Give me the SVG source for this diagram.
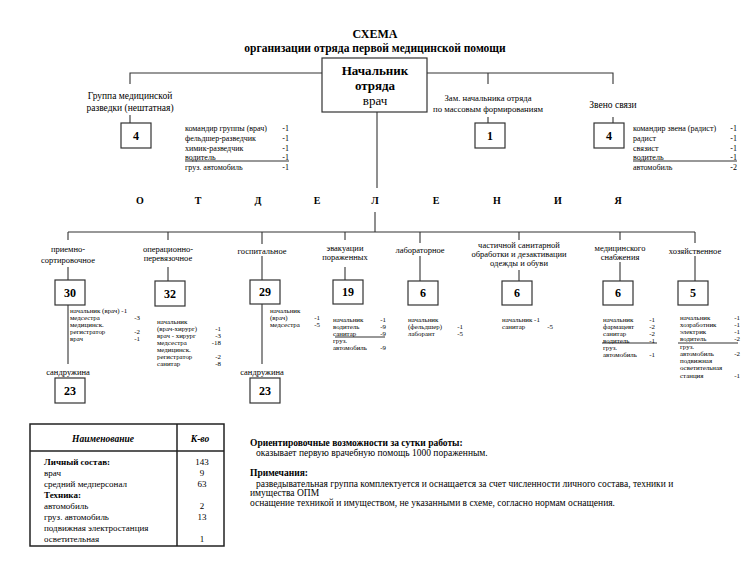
<svg xmlns="http://www.w3.org/2000/svg" width="750" height="561" viewBox="0 0 750 561">
<style>
text{font-family:"Liberation Serif","Times New Roman","DejaVu Serif",serif;fill:#000}
.s{font-size:8.5px}
.xs{font-size:6.9px}
.t{font-size:8px}
.m{font-size:9.5px}
.b{font-weight:bold}
.num{font-size:12px;font-weight:bold;text-anchor:middle}
.c{text-anchor:middle}
.e{text-anchor:end}
rect{fill:#fff;stroke:#333;stroke-width:1.2}
line,polyline{stroke:#333;stroke-width:1.1;fill:none}
</style>
<rect x="0" y="0" width="750" height="561" style="stroke:none"/>
<text x="375" y="38" class="c b" font-size="12">СХЕМА</text>
<text x="375" y="52" class="c b" font-size="11.5">организации отряда первой медицинской помощи</text>
<g id="connectors">
<polyline points="322,73 130,73 130,84"/>
<polyline points="427,73 613,73 613,84"/>
<line x1="488" y1="73" x2="488" y2="84"/>
<line x1="130" y1="115" x2="130" y2="123"/>
<line x1="488" y1="117" x2="488" y2="123"/>
<line x1="613" y1="117" x2="613" y2="123"/>
<line x1="185" y1="161" x2="289" y2="161"/>
<line x1="633" y1="161" x2="737" y2="161"/>
<line x1="377" y1="112" x2="377" y2="188"/>
<line x1="375" y1="212" x2="375" y2="232"/>
<line x1="68" y1="232" x2="695" y2="232"/>
<line x1="68" y1="232" x2="68" y2="240"/><line x1="68" y1="267" x2="68" y2="280"/>
<line x1="168" y1="232" x2="168" y2="240"/><line x1="168" y1="267" x2="168" y2="281"/>
<line x1="262" y1="232" x2="262" y2="244"/><line x1="262" y1="256" x2="262" y2="280"/>
<line x1="345" y1="232" x2="345" y2="240"/><line x1="345" y1="267" x2="345" y2="280"/>
<line x1="420" y1="232" x2="420" y2="243"/><line x1="420" y1="256" x2="420" y2="281"/>
<line x1="519" y1="232" x2="519" y2="240"/><line x1="519" y1="270" x2="519" y2="281"/>
<line x1="620" y1="232" x2="620" y2="240"/><line x1="620" y1="262" x2="620" y2="281"/>
<line x1="695" y1="232" x2="695" y2="243"/><line x1="695" y1="256" x2="695" y2="281"/>
<line x1="68" y1="305" x2="68" y2="364"/>
<line x1="262" y1="304" x2="262" y2="364"/>
<line x1="335" y1="337" x2="385" y2="337"/>
<line x1="602" y1="343" x2="657" y2="343"/>
<line x1="678" y1="343" x2="738" y2="343"/>
</g>
<g id="chief"><rect x="322" y="58" width="105" height="54"/>
<text x="375" y="75" class="c b" font-size="13">Начальник</text>
<text x="375" y="90" class="c b" font-size="13">отряда</text>
<text x="375" y="105" class="c" font-size="13">врач</text></g>
<g id="razv"><text x="130" y="99" class="c m">Группа медицинской</text><text x="130" y="111" class="c m">разведки (нештатная)</text>
<rect x="121" y="123" width="30" height="25"/><text x="136" y="140" class="num">4</text>
<g class="t"><text x="185" y="131">командир группы (врач)</text><text x="185" y="141">фельдшер-разведчик</text><text x="185" y="151">химик-разведчик</text><text x="185" y="160">водитель</text><text x="185" y="170">груз. автомобиль</text>
<text x="289" y="131" class="e">-1</text><text x="289" y="141" class="e">-1</text><text x="289" y="151" class="e">-1</text><text x="289" y="160" class="e">-1</text><text x="289" y="170" class="e">-1</text></g></g>
<g id="zam"><text x="488" y="101" class="c" font-size="8.7">Зам. начальника отряда</text><text x="488" y="112" class="c" font-size="8.7">по массовым формированиям</text>
<rect x="475" y="123" width="30" height="25"/><text x="490" y="140" class="num">1</text></g>
<g id="svyaz"><text x="613" y="108" class="c m">Звено связи</text>
<rect x="594" y="123" width="30" height="25"/><text x="609" y="140" class="num">4</text>
<g class="t"><text x="633" y="131">командир звена (радист)</text><text x="633" y="141">радист</text><text x="633" y="151">связист</text><text x="633" y="160">водитель</text><text x="633" y="170">автомобиль</text>
<text x="737" y="131" class="e">-1</text><text x="737" y="141" class="e">-1</text><text x="737" y="151" class="e">-1</text><text x="737" y="160" class="e">-1</text><text x="737" y="170" class="e">-2</text></g></g>
<g id="otd" class="b" font-size="10"><text x="140" y="204" class="c">О</text><text x="198" y="204" class="c">Т</text><text x="258" y="204" class="c">Д</text><text x="317" y="204" class="c">Е</text><text x="375" y="204" class="c">Л</text><text x="436" y="204" class="c">Е</text><text x="497" y="204" class="c">Н</text><text x="558" y="204" class="c">И</text><text x="618" y="204" class="c">Я</text></g>
<g id="o1"><text x="68" y="252" class="c s">приемно-</text><text x="68" y="263" class="c s">сортировочное</text>
<rect x="55" y="280" width="30" height="25"/><text x="70" y="297" class="num">30</text>
<g class="xs"><text x="70" y="313">начальник (врач) -1</text><text x="70" y="320">медсестра</text><text x="70" y="327">медицинск.</text><text x="70" y="334">регистратор</text><text x="70" y="341">врач</text>
<text x="140" y="320" class="e">-3</text><text x="140" y="334" class="e">-2</text><text x="140" y="341" class="e">-1</text></g>
<text x="68" y="375" class="c s">сандружина</text>
<rect x="55" y="378" width="30" height="25"/><text x="70" y="395" class="num">23</text></g>
<g id="o2"><text x="168" y="252" class="c s">операционно-</text><text x="168" y="261" class="c s">перевязочное</text>
<rect x="155" y="281" width="30" height="25"/><text x="170" y="298" class="num">32</text>
<g class="xs"><text x="157" y="324">начальник</text><text x="157" y="331">(врач-хирург)</text><text x="157" y="338">врач - хирург</text><text x="157" y="345">медсестра</text><text x="157" y="352">медицинск.</text><text x="157" y="359">регистратор</text><text x="157" y="366">санитар</text>
<text x="221" y="331" class="e">-1</text><text x="221" y="338" class="e">-3</text><text x="221" y="345" class="e">-18</text><text x="221" y="359" class="e">-2</text><text x="221" y="366" class="e">-8</text></g></g>
<g id="o3"><text x="262" y="254" class="c s">госпитальное</text>
<rect x="250" y="280" width="30" height="24"/><text x="265" y="296" class="num">29</text>
<g class="xs"><text x="270" y="313">начальник</text><text x="270" y="320">(врач)</text><text x="270" y="327">медсестра</text>
<text x="320" y="320" class="e">-1</text><text x="320" y="327" class="e">-5</text></g>
<text x="262" y="375" class="c s">сандружина</text>
<rect x="250" y="378" width="30" height="25"/><text x="265" y="395" class="num">23</text></g>
<g id="o4"><text x="345" y="251" class="c s">эвакуации</text><text x="345" y="260" class="c s">пораженных</text>
<rect x="333" y="280" width="30" height="24"/><text x="348" y="296" class="num">19</text>
<g class="xs"><text x="333" y="322">начальник</text><text x="333" y="329">водитель</text><text x="333" y="336">санитар</text><text x="333" y="343">груз.</text><text x="333" y="350">автомобиль</text>
<text x="386" y="322" class="e">-1</text><text x="386" y="329" class="e">-9</text><text x="386" y="336" class="e">-9</text><text x="386" y="350" class="e">-9</text></g></g>
<g id="o5"><text x="420" y="253" class="c s">лабораторное</text>
<rect x="408" y="281" width="30" height="24"/><text x="423" y="297" class="num">6</text>
<g class="xs"><text x="408" y="322">начальник</text><text x="408" y="329">(фельдшер)</text><text x="408" y="336">лаборант</text>
<text x="463" y="329" class="e">-1</text><text x="463" y="336" class="e">-5</text></g></g>
<g id="o6"><text x="519" y="248" class="c s">частичной санитарной</text><text x="519" y="257" class="c s">обработки и дезактивации</text><text x="519" y="266" class="c s">одежды и обуви</text>
<rect x="502" y="281" width="30" height="24"/><text x="517" y="297" class="num">6</text>
<g class="xs"><text x="502" y="322">начальник -1</text><text x="502" y="329">санитар</text><text x="553" y="329" class="e">-5</text></g></g>
<g id="o7"><text x="620" y="251" class="c s">медицинского</text><text x="620" y="260" class="c s">снабжения</text>
<rect x="603" y="281" width="30" height="24"/><text x="618" y="297" class="num">6</text>
<g class="xs"><text x="603" y="322">начальник</text><text x="603" y="329">фармацевт</text><text x="603" y="336">санитар</text><text x="603" y="343">водитель</text><text x="603" y="350">груз.</text><text x="603" y="357">автомобиль</text>
<text x="655" y="322" class="e">-1</text><text x="655" y="329" class="e">-2</text><text x="655" y="336" class="e">-2</text><text x="655" y="343" class="e">-1</text><text x="655" y="357" class="e">-1</text></g></g>
<g id="o8"><text x="695" y="254" class="c s">хозяйственное</text>
<rect x="678" y="281" width="30" height="24"/><text x="693" y="297" class="num">5</text>
<g class="xs"><text x="680" y="320">начальник</text><text x="680" y="327">хозработник</text><text x="680" y="334">электрик</text><text x="680" y="341">водитель</text><text x="680" y="349">груз.</text><text x="680" y="356">автомобиль</text><text x="680" y="363">подвижная</text><text x="680" y="370">осветительная</text><text x="680" y="378">станция</text>
<text x="740" y="320" class="e">-1</text><text x="740" y="327" class="e">-1</text><text x="740" y="334" class="e">-1</text><text x="740" y="341" class="e">-2</text><text x="740" y="356" class="e">-2</text><text x="740" y="378" class="e">-1</text></g></g>
<g id="table"><rect x="30" y="424" width="194" height="122" style="stroke:#222;stroke-width:1.5"/>
<line x1="30" y1="451" x2="224" y2="451" style="stroke:#222;stroke-width:1.5"/>
<line x1="177" y1="424" x2="177" y2="546" style="stroke:#222;stroke-width:1.5"/>
<text x="103" y="442" class="c b m" font-style="italic">Наименование</text>
<text x="200" y="442" class="c b m" font-style="italic">К-во</text>
<g font-size="9"><text x="44" y="465" class="b">Личный состав:</text><text x="44" y="476">врач</text><text x="44" y="487">средний медперсонал</text><text x="44" y="498" class="b">Техника:</text><text x="44" y="509">автомобиль</text><text x="44" y="520">груз. автомобиль</text><text x="44" y="531">подвижная электростанция</text><text x="44" y="542">осветительная</text>
<text x="202" y="465" class="c">143</text><text x="202" y="476" class="c">9</text><text x="202" y="487" class="c">63</text><text x="202" y="509" class="c">2</text><text x="202" y="520" class="c">13</text><text x="202" y="542" class="c">1</text></g></g>
<g id="notes" font-size="9.5"><text x="250" y="446" class="b">Ориентировочные возможности за сутки работы:</text>
<text x="256" y="456">оказывает первую врачебную помощь 1000 пораженным.</text>
<text x="250" y="476" class="b">Примечания:</text>
<text x="256" y="487">разведывательная группа комплектуется и оснащается за счет численности личного состава, техники и</text>
<text x="250" y="496">имущества ОПМ</text>
<text x="250" y="506">оснащение техникой и имуществом, не указанными в схеме, согласно нормам оснащения.</text></g>
</svg>
